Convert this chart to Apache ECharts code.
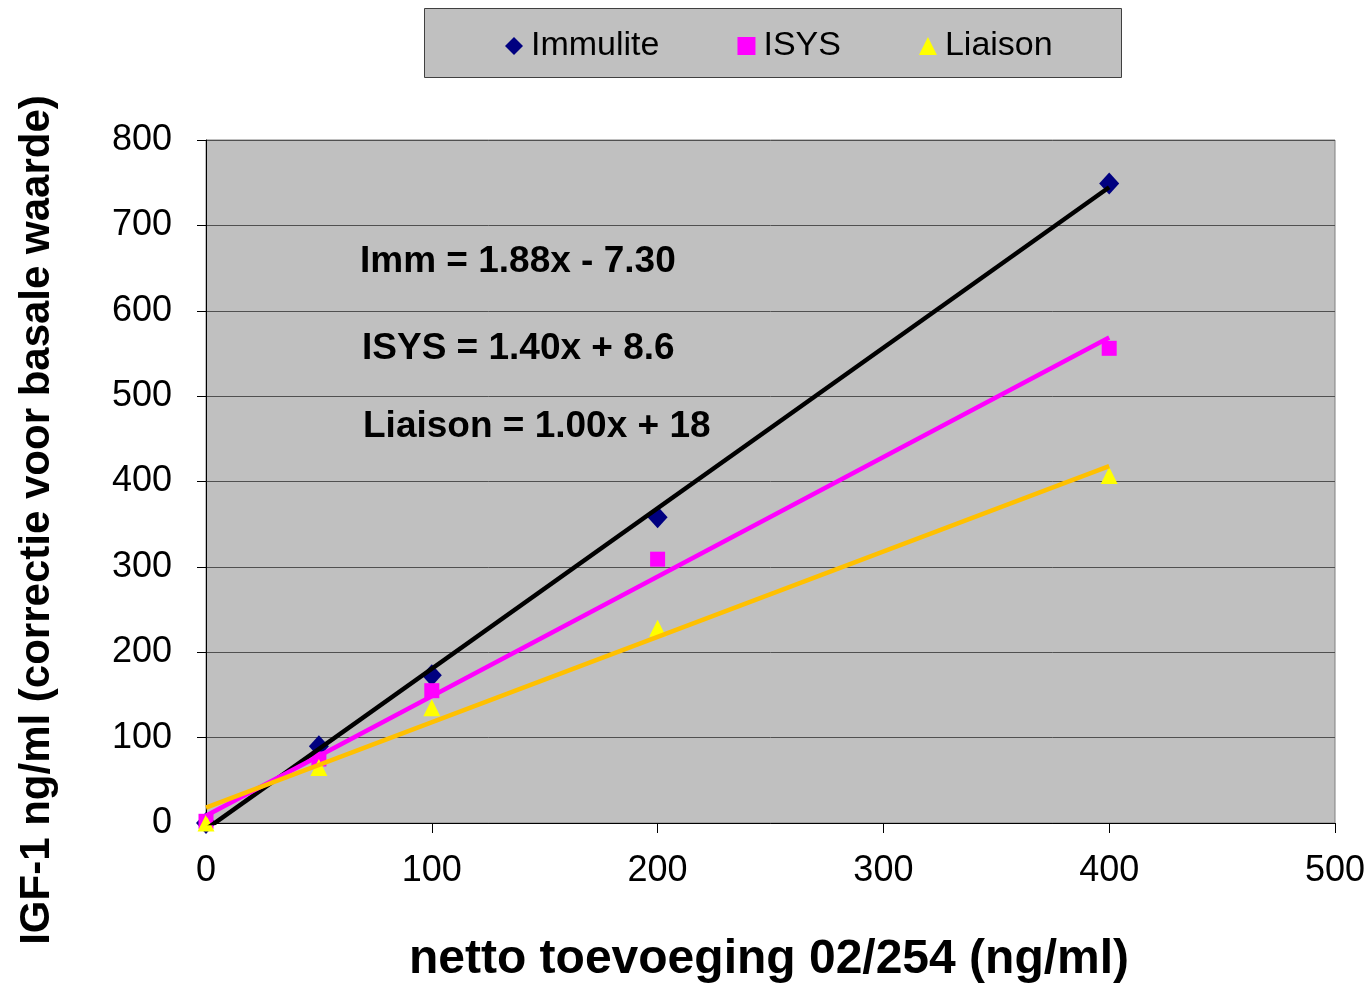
<!DOCTYPE html>
<html>
<head>
<meta charset="utf-8">
<script src="https://cdn.jsdelivr.net/npm/echarts@6/dist/echarts.min.js"></script>
<style>
html,body{margin:0;padding:0;background:#fff;}
#chart{width:1372px;height:986px;}
</style>
</head>
<body>
<div id="chart"></div>
<script>
// Data
var immulite = [[0, 0], [50, 90], [100, 173], [200, 358], [400, 749]];
var isys = [[0, 2], [50, 75], [100, 155], [200, 309], [400, 556]];
var liaison = [[0, 0], [50, 65], [100, 135], [200, 228], [400, 407]];
// Trendline end points (from equations shown on the chart)
var immTrend = [[0, -7.3], [400, 744.7]];
var isysTrend = [[0, 8.6], [400, 568.6]];
var liaisonTrend = [[0, 18], [400, 418]];
var equations = ['Imm = 1.88x - 7.30', 'ISYS = 1.40x + 8.6', 'Liaison = 1.00x + 18'];
var seriesNames = ['Immulite', 'ISYS', 'Liaison'];

var font = 'Liberation Sans, Arial, sans-serif';
var chart = echarts.init(document.getElementById('chart'), null, {renderer: 'canvas'});

var option = {
  backgroundColor: '#ffffff',
  animation: false,
  grid: {
    left: 206, right: 37, top: 140, bottom: 163,
    show: true, backgroundColor: '#C0C0C0', borderColor: '#808080', borderWidth: 1
  },
  legend: {
    data: [
      {name: seriesNames[0], icon: 'diamond'},
      {name: seriesNames[1], icon: 'rect'},
      {name: seriesNames[2], icon: 'triangle'}
    ],
    left: 500, top: 24,
    itemWidth: 18, itemHeight: 18, itemGap: 78,
    textStyle: {fontFamily: font, fontSize: 34, color: '#000', padding: [0, 0, 0, 3]}
  },
  xAxis: {
    type: 'value', min: 0, max: 500, interval: 100,
    axisLine: {show: true, lineStyle: {color: '#000', width: 1}},
    axisTick: {show: true, length: 10, lineStyle: {color: '#000'}},
    axisLabel: {fontFamily: font, fontSize: 36, color: '#000', margin: 30},
    splitLine: {show: false}
  },
  yAxis: {
    type: 'value', min: 0, max: 800, interval: 100,
    axisLine: {show: true, lineStyle: {color: '#000', width: 1}},
    axisTick: {show: true, length: 9, lineStyle: {color: '#000'}},
    axisLabel: {fontFamily: font, fontSize: 36, color: '#000', margin: 34},
    splitLine: {show: true, lineStyle: {color: '#505050', width: 1}}
  },
  series: [
    {name: seriesNames[0], type: 'scatter', data: immulite, symbol: 'diamond', symbolSize: [20, 22],
     itemStyle: {color: '#000080', opacity: 1}, z: 2},
    {name: seriesNames[1], type: 'scatter', data: isys, symbol: 'rect', symbolSize: 15,
     itemStyle: {color: '#FF00FF', opacity: 1}, z: 2},
    {name: seriesNames[2], type: 'scatter', data: liaison, symbol: 'triangle', symbolSize: 17,
     itemStyle: {color: '#FFFF00', opacity: 1}, z: 2},
    {name: 'immTrend', type: 'line', data: immTrend, showSymbol: false, symbol: 'none', clip: true,
     lineStyle: {color: '#000000', width: 4.5}, z: 3},
    {name: 'isysTrend', type: 'line', data: isysTrend, showSymbol: false, symbol: 'none', clip: true,
     lineStyle: {color: '#FF00FF', width: 4.5}, z: 3},
    {name: 'liaisonTrend', type: 'line', data: liaisonTrend, showSymbol: false, symbol: 'none', clip: true,
     lineStyle: {color: '#FFC000', width: 4.5}, z: 3}
  ],
  graphic: [
    {type: 'rect', left: 424, top: 8, z: -1,
     shape: {width: 697, height: 69},
     style: {fill: '#C0C0C0', stroke: '#404040', lineWidth: 1}},
    {type: 'text', x: 360, y: 262, z: 10,
     style: {text: equations[0], font: 'bold 37px ' + font, fill: '#000', textVerticalAlign: 'middle'}},
    {type: 'text', x: 362, y: 349, z: 10,
     style: {text: equations[1], font: 'bold 37px ' + font, fill: '#000', textVerticalAlign: 'middle'}},
    {type: 'text', x: 363, y: 427, z: 10,
     style: {text: equations[2], font: 'bold 37px ' + font, fill: '#000', textVerticalAlign: 'middle'}},
    {type: 'text', x: 769, y: 960, z: 10,
     style: {text: 'netto toevoeging 02/254 (ng/ml)', font: 'bold 48px ' + font, fill: '#000',
             textAlign: 'center', textVerticalAlign: 'middle'}},
    {type: 'text', x: 37, y: 520, rotation: Math.PI / 2, z: 10,
     style: {text: 'IGF-1 ng/ml (correctie voor basale waarde)', font: 'bold 42px ' + font, fill: '#000',
             textAlign: 'center', textVerticalAlign: 'middle'}}
  ]
};
chart.setOption(option);
</script>
</body>
</html>
